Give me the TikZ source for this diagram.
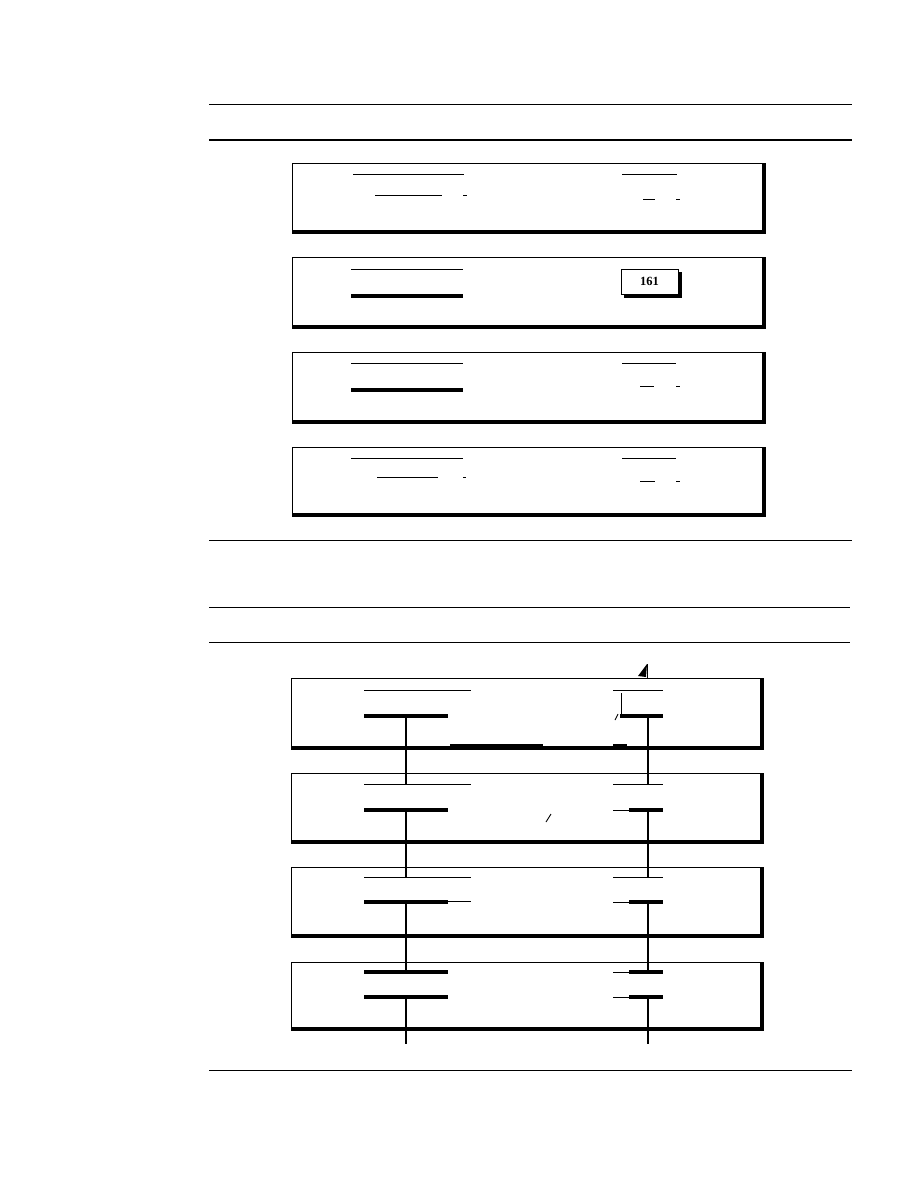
\documentclass[tikz,border=0pt]{standalone}
\usepackage{fontspec}
\setmainfont{Liberation Serif}
\newcommand{\cellframe}[4]{%
  \draw[panel] (#1,#2) rectangle (#3,#4);
  \draw[line width=3.2pt] (#1,#4) -- (#3,#4) -- (#3,#2);}

\begin{document}
\begin{tikzpicture}[x=1pt,y=-1pt,
    rule/.style={line width=1pt},
    panel/.style={line width=1pt},
    thinline/.style={line width=0.9pt},
    thickline/.style={line width=3.4pt},
    lead/.style={line width=1.1pt},
    leadR/.style={line width=1.6pt},
    stub/.style={line width=2.8pt}]
\useasboundingbox (0,0) rectangle (918,1188);
% page rules
\draw[rule] (209,105) -- (852,105);
\draw[rule] (209,140) -- (852,140);
\draw[rule] (209,540) -- (852,540);
\draw[rule] (209,607) -- (850,607);
\draw[rule] (209,642) -- (850,642);
\draw[rule] (209,1070) -- (852,1070);

% upper panels
\cellframe{292}{163}{764}{232}
\draw[thinline] (353,174) -- (464,174);
\draw[thinline] (375,195) -- (442,195);
\draw[thinline] (463,195) -- (467,195);
\draw[thinline] (622,174) -- (677,174);
\draw[thinline] (643,199) -- (655,199);
\draw[thinline] (676,199) -- (680,199);

\cellframe{292}{257}{764}{327}
\draw[thinline] (351,269) -- (463,269);
\draw[thickline] (351,296) -- (463,296);
\fill (624,272) rectangle (682,298);
\node[draw, fill=white, line width=0.9pt, minimum width=57pt, minimum height=25pt,
  inner sep=0pt, font=\fontsize{12.5}{14}\selectfont\bfseries] (cnt) at (649.5,281.5) {161};

\cellframe{292}{352}{764}{422}
\draw[thinline] (351,363) -- (463,363);
\draw[thickline] (351,390) -- (463,390);
\draw[thinline] (622,363) -- (676,363);
\draw[thinline] (640,386) -- (654,386);
\draw[thinline] (676,386) -- (680,386);

\cellframe{292}{447}{764}{515}
\draw[thinline] (351,458) -- (463,458);
\draw[thinline] (377,477) -- (438,477);
\draw[thinline] (463,477) -- (466,477);
\draw[thinline] (622,458) -- (676,458);
\draw[thinline] (640,481) -- (655,481);
\draw[thinline] (676,481) -- (680,481);

% lower panels
\cellframe{291}{678}{762}{748}
\cellframe{291}{773}{762}{842}
\cellframe{291}{867}{762}{936}
\cellframe{291}{962}{762}{1029}

% plates, left column
\draw[thinline] (364,690) -- (471,690);
\draw[thickline] (364,716) -- (448,716);
\draw[thinline] (364,784) -- (471,784);
\draw[thickline] (364,810) -- (448,810);
\draw[thinline] (364,877) -- (471,877);
\draw[thickline] (364,902) -- (448,902);
\draw[thinline] (448,901) -- (471,901);
\draw[thickline] (364,972) -- (448,972);
\draw[thickline] (364,997) -- (448,997);

% plates, right column
\draw[thinline] (613,690) -- (663,690);
\draw[thickline] (620,716) -- (663,716);
\draw[thinline] (613,784) -- (663,784);
\draw[thinline] (613,810) -- (629,810);
\draw[thickline] (629,810) -- (663,810);
\draw[thinline] (613,877) -- (663,877);
\draw[thinline] (613,902) -- (629,902);
\draw[thickline] (629,902) -- (663,902);
\draw[thinline] (613,972) -- (629,972);
\draw[thickline] (629,972) -- (663,972);
\draw[thinline] (613,997) -- (629,997);
\draw[thickline] (629,997) -- (663,997);

% lead ends
\coordinate (l1) at (406,716);  \coordinate (l2) at (406,784);
\coordinate (l3) at (406,810);  \coordinate (l4) at (406,877);
\coordinate (l5) at (406,902);  \coordinate (l6) at (406,972);
\coordinate (l7) at (406,997);  \coordinate (l8) at (406,1029);
\coordinate (l9) at (406,1044);
\coordinate (r1) at (648,716);  \coordinate (r2) at (648,784);
\coordinate (r3) at (648,810);  \coordinate (r4) at (648,877);
\coordinate (r5) at (648,902);  \coordinate (r6) at (648,972);
\coordinate (r7) at (648,997);  \coordinate (r8) at (648,1029);
\coordinate (r9) at (648,1044);

\draw[lead] (l1) -- (l2);
\draw[lead] (l3) -- (l4);
\draw[lead] (l5) -- (l6);
\draw[lead] (l7) -- (l8);
\draw[stub] (l8) -- (l9);
\draw[leadR] (r1) -- (r2);
\draw[leadR] (r3) -- (r4);
\draw[leadR] (r5) -- (r6);
\draw[leadR] (r7) -- (r8);
\draw[stub] (r8) -- (r9);

% marks in the scan
\draw[line width=3.5pt] (450,746) -- (543,746);
\draw[line width=3.5pt] (613,746) -- (627,746);
\draw[thinline] (621,693) -- (621,718);
\draw[thinline] (615,720) -- (618,714);
\fill (638,676) -- (647,664) -- (646,677) -- cycle;
\draw[thinline] (647,664) -- (647,678);
\draw[thinline] (546,822) -- (551,814);
\end{tikzpicture}
\end{document}
